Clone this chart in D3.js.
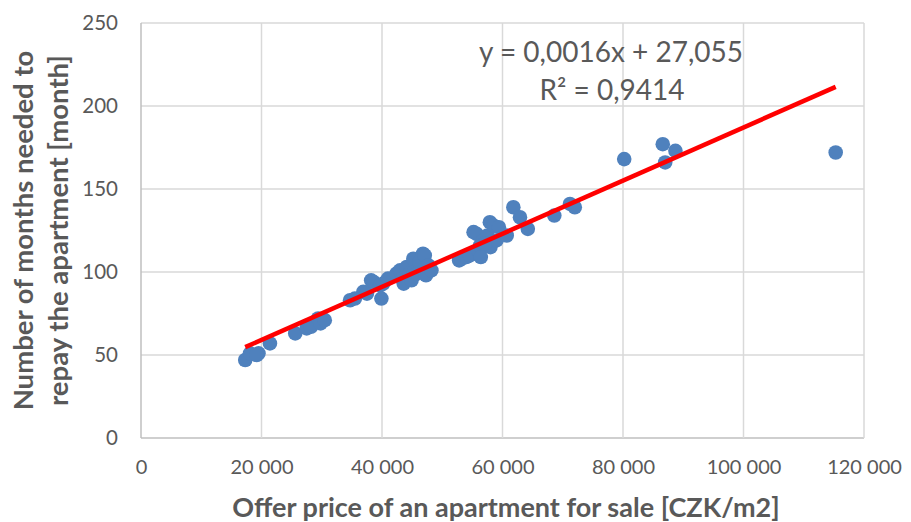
<!DOCTYPE html>
<html>
<head>
<meta charset="utf-8">
<script src="https://cdn.jsdelivr.net/npm/d3@7"></script>
<style>
  html, body { margin: 0; padding: 0; background: #fff; }
  svg { display: block; }
  text { font-family: Lato, "Open Sans", sans-serif; fill: #595959; }
</style>
</head>
<body>
<svg id="chart" width="911" height="522"></svg>
<script>
// ---- data ----
const priceValues = [
  17300,18100,19500,19200,21400,25600,27500,28200,29400,29800,30500,
  34700,35500,36900,37500,38200,38600,39700,39900,40200,41000,42400,43000,43500,43600,44100,44600,44900,45200,45300,45800,46200,46800,47100,47300,47700,48200,
  52800,53200,54000,54600,55200,55700,56000,56300,56800,57500,57900,58000,58500,59000,59400,60700,56400,57000,
  61800,62900,64200,68600,71200,72000,80200,86600,87000,88700,115300
];
const monthValues = [
  47,51,51,50,57,63,66,67,72,69,71,
  83,84,88,87,95,94,92,84,93,96,99,101,96,93,103,99,95,108,100,99,106,111,110,98,104,101,
  107,108,109,110,124,123,113,116,119,122,130,115,128,119,127,122,109,117,
  139,133,126,134,141,139,168,177,166,173,172
];
const xTicks = [0, 20000, 40000, 60000, 80000, 100000, 120000];
const yTicks = [0, 50, 100, 150, 200, 250];
const slope = 0.0016, intercept = 27.055;
const equationText = "y = 0,0016x + 27,055";
const r2Text = "R² = 0,9414";
const xTitle = "Offer price of an apartment for sale [CZK/m2]";
const yTitleLines = ["Number of months needed to", "repay the apartment [month]"];

// ---- layout ----
const W = 911, H = 522;
const m = {left: 141, right: 47, top: 23, bottom: 84};
const svg = d3.select("#chart");
const x = d3.scaleLinear().domain([0, 120000]).range([m.left, W - m.right]);
const y = d3.scaleLinear().domain([0, 250]).range([H - m.bottom, m.top]);
const fmt = v => v === 0 ? "0" : d3.format(",")(v).replace(/,/g, " ");

// gridlines
svg.append("g").selectAll("line").data(yTicks).join("line")
  .attr("x1", x(0)).attr("x2", x(120000))
  .attr("y1", d => y(d)).attr("y2", d => y(d))
  .attr("stroke", d => d === 0 ? "#bfbfbf" : "#d9d9d9").attr("stroke-width", 1.5);
svg.append("g").selectAll("line").data(xTicks).join("line")
  .attr("y1", y(0)).attr("y2", y(250))
  .attr("x1", d => x(d)).attr("x2", d => x(d))
  .attr("stroke", d => d === 0 ? "#bfbfbf" : "#d9d9d9").attr("stroke-width", 1.5);

// axes labels via d3 axes (no domain/ticks lines)
const xAxis = svg.append("g").attr("transform", `translate(0,${y(0)})`)
  .call(d3.axisBottom(x).tickValues(xTicks).tickFormat(fmt).tickSize(0).tickPadding(22));
xAxis.select(".domain").remove();
xAxis.selectAll("text").attr("font-size", 20).attr("font-family", "Lato, sans-serif").attr("fill", "#595959");

const yAxis = svg.append("g").attr("transform", `translate(${x(0)},0)`)
  .call(d3.axisLeft(y).tickValues(yTicks).tickFormat(fmt).tickSize(0).tickPadding(23));
yAxis.select(".domain").remove();
yAxis.selectAll("text").attr("font-size", 20.5).attr("font-family", "Lato, sans-serif").attr("fill", "#595959");

// points
const pts = priceValues.map((p, i) => ({p, mth: monthValues[i]}));
svg.append("g").selectAll("circle").data(pts).join("circle")
  .attr("cx", d => x(d.p)).attr("cy", d => y(d.mth)).attr("r", 7.3)
  .attr("fill", "#4f81bd");

// trendline
const xMin = d3.min(priceValues), xMax = d3.max(priceValues);
svg.append("line")
  .attr("x1", x(xMin)).attr("y1", y(slope * xMin + intercept))
  .attr("x2", x(xMax)).attr("y2", y(slope * xMax + intercept))
  .attr("stroke", "#ff0000").attr("stroke-width", 4.5);

// equation
svg.append("text").attr("x", 611).attr("y", 62).attr("text-anchor", "middle")
  .attr("font-size", 28).text(equationText);
svg.append("text").attr("x", 612).attr("y", 100).attr("text-anchor", "middle")
  .attr("font-size", 28).text(r2Text);

// titles
svg.append("text").attr("x", 506).attr("y", 517).attr("text-anchor", "middle")
  .attr("font-size", 27).attr("font-weight", "bold").text(xTitle);
const yt = svg.append("text").attr("transform", `translate(0,${(y(0) + y(250)) / 2}) rotate(-90)`)
  .attr("text-anchor", "middle").attr("font-size", 27.5).attr("font-weight", "bold");
yt.selectAll("tspan").data(yTitleLines).join("tspan")
  .attr("x", 0).attr("y", (d, i) => 33 + i * 35).text(d => d);
</script>
</body>
</html>
